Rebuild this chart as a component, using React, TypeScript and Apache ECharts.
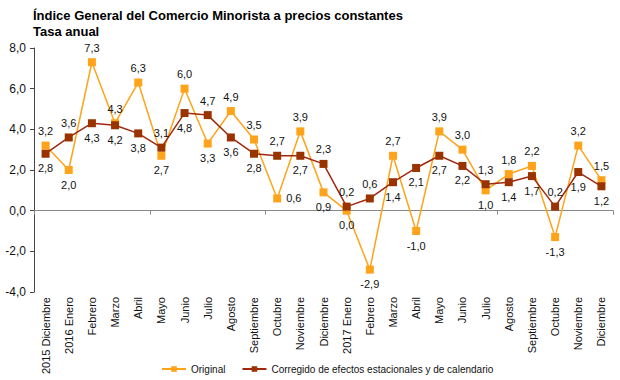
import React, { useEffect, useRef } from "react";
import * as echarts from "echarts";

const categories = [
  "2015 Diciembre", "2016 Enero", "Febrero", "Marzo", "Abril", "Mayo", "Junio", "Julio",
  "Agosto", "Septiembre", "Octubre", "Noviembre", "Diciembre", "2017 Enero", "Febrero",
  "Marzo", "Abril", "Mayo", "Junio", "Julio", "Agosto", "Septiembre", "Octubre",
  "Noviembre", "Diciembre",
];
const original = [3.2, 2.0, 7.3, 4.3, 6.3, 2.7, 6.0, 3.3, 4.9, 3.5, 0.6, 3.9, 0.9, 0.0, -2.9, 2.7, -1.0, 3.9, 3.0, 1.0, 1.8, 2.2, -1.3, 3.2, 1.5];
const corregido = [2.8, 3.6, 4.3, 4.2, 3.8, 3.1, 4.8, 4.7, 3.6, 2.8, 2.7, 2.7, 2.3, 0.2, 0.6, 1.4, 2.1, 2.7, 2.2, 1.3, 1.4, 1.7, 0.2, 1.9, 1.2];
const yTicks = [-4, -2, 0, 2, 4, 6, 8];
const seriesNames = ["Original", "Corregido de efectos estacionales y de calendario"];

const fmt = (v: number) => v.toFixed(1).replace(".", ",");

export default function App() {
  const ref = useRef<HTMLDivElement>(null);
  useEffect(() => {
    if (!ref.current) return;
    const chart = echarts.init(ref.current, undefined, { renderer: "svg" });
    const font = "Liberation Sans, Arial, sans-serif";
    // label placement: higher point label above, lower below, with a few exceptions
    const posOrig = original.map((v, i) => (v >= corregido[i] ? "top" : "bottom"));
    const posCorr = corregido.map((v, i) => (v > original[i] ? "top" : "bottom"));
    posOrig[10] = "right";
    posCorr[16] = "bottom";
    const mk = (vals: number[], pos: string[]) =>
      vals.map((v, i) => ({ value: v, label: { position: pos[i] } }));
    const labelCommon = {
      show: true,
      formatter: (p: any) => fmt(p.value),
      fontFamily: font,
      fontSize: 11,
      color: "#111",
      distance: 5,
    };
    chart.setOption({
      animation: false,
      backgroundColor: "#fff",
      title: {
        text: "Índice General del Comercio Minorista a precios constantes\nTasa anual",
        left: 33,
        top: 7,
        padding: 0,
        textStyle: { fontFamily: font, fontSize: 13, fontWeight: "bold", color: "#000", lineHeight: 16 },
      },
      legend: {
        top: 364,
        left: 161,
        padding: 0,
        itemWidth: 24,
        itemHeight: 7,
        itemGap: 16,
        textStyle: { fontFamily: font, fontSize: 10, color: "#111" },
        data: seriesNames,
      },
      grid: { left: 34, right: 7, top: 48, bottom: 88, containLabel: false },
      xAxis: [
        {
          type: "category",
          data: categories,
          boundaryGap: true,
          axisLine: { onZero: true, lineStyle: { color: "#888", width: 1 } },
          axisTick: { show: true, length: 4, lineStyle: { color: "#888" } },
          axisLabel: { show: false },
        },
        {
          type: "category",
          data: categories,
          boundaryGap: true,
          position: "bottom",
          axisLine: { show: false, onZero: false },
          axisTick: { show: false },
          axisLabel: {
            show: true,
            interval: 0,
            rotate: 90,
            margin: 5,
            fontFamily: font,
            fontSize: 11,
            color: "#111",
          },
        },
      ],
      yAxis: {
        type: "value",
        min: yTicks[0],
        max: yTicks[yTicks.length - 1],
        interval: 2,
        splitLine: { show: false },
        axisLine: { show: true, lineStyle: { color: "#444" } },
        axisTick: { show: true, length: 4, lineStyle: { color: "#444" } },
        axisLabel: { formatter: (v: number) => fmt(v), fontFamily: font, fontSize: 12, color: "#111", margin: 8 },
      },
      series: [
        {
          name: seriesNames[0],
          type: "line",
          xAxisIndex: 0,
          data: mk(original, posOrig),
          symbol: "rect",
          symbolSize: 8,
          itemStyle: { color: "#FFA31A" },
          lineStyle: { color: "#FFA31A", width: 1.5 },
          label: labelCommon,
          z: 2,
        },
        {
          name: seriesNames[1],
          type: "line",
          xAxisIndex: 0,
          data: mk(corregido, posCorr),
          symbol: "rect",
          symbolSize: 8,
          itemStyle: { color: "#993300" },
          lineStyle: { color: "#A0280F", width: 1.5 },
          label: labelCommon,
          z: 3,
        },
      ],
    });
    return () => chart.dispose();
  }, []);
  return <div ref={ref} style={{ position: "fixed", left: 0, top: 0, width: 620, height: 380 }} />;
}
